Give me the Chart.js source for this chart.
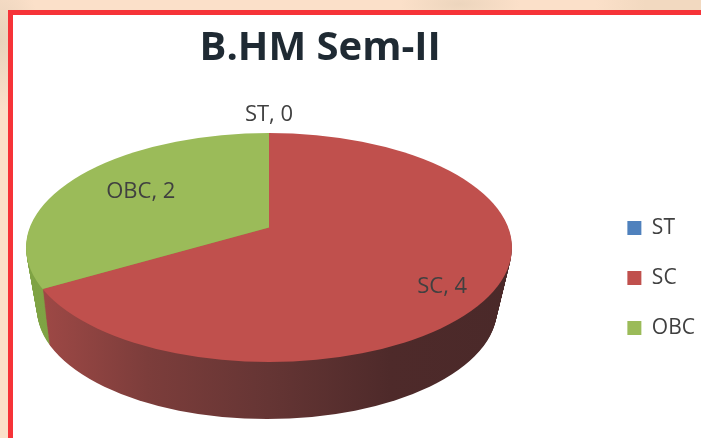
<!DOCTYPE html>
<html>
<head>
<meta charset="utf-8">
<script src="https://cdn.jsdelivr.net/npm/chart.js@4"></script>
<style>
    html, body { margin: 0; padding: 0; overflow: hidden; }
    body { width: 701px; height: 438px; background: radial-gradient(ellipse 60px 20px at 460px 4px, #ecd5bd, rgba(236,213,189,0)), radial-gradient(ellipse 40px 70px at 0px 40px, #e8d2bb, rgba(232,210,187,0)), linear-gradient(90deg, #fbe0c9 85%, #f2d9c0 92%); }
    #frame { position: absolute; left: 8px; top: 10px; width: 693px; height: 428px; background: #fff; border: 5px solid #f63338; border-right: 0; border-bottom: 0; box-sizing: border-box; }
    #chart { position: absolute; left: 0; top: 0; }
</style>
</head>
<body>
<div id="frame"></div>
<canvas id="chart" width="701" height="438"></canvas>
<script>
const categories = ["ST", "SC", "OBC"];
const values = [0, 4, 2];
const colors = ["#4f81bd", "#c0504d", "#9bbb59"];
// side wall colours, left to right across the pie
const sideColors = [
    ["#4f81bd", "#2c4a6e"],
    ["#a34a47", "#7c3d3b", "#653534", "#4e2a2a", "#4a2929"],
    ["#7fa344", "#76973f"],
];

// ellipse of the top face, the wedge tip sits above its centre
const pie = { cx: 269, cy: 247.5, rx: 243, ry: 114.5, tipY: 227.5, depth: 57 };
// bottom rim is a bit smaller and lower, perspective
const rim = { cx: 267, cy: 309, rx: 230, ry: 110 };
const labelRadius = [240, 200, 148];
const labelNudge = [0, 12, -1];

function ellipsePath(ctx, d) {
    var t = d / pie.depth;
    ctx.beginPath();
    ctx.ellipse(
        pie.cx + (rim.cx - pie.cx) * t,
        pie.cy + (rim.cy - pie.cy) * t,
        pie.rx + (rim.rx - pie.rx) * t,
        pie.ry + (rim.ry - pie.ry) * t,
        0, 0, Math.PI * 2
    );
}

function toFace(ctx, el, d) {
    var k = 2.2 * pie.rx / el.outerRadius;
    ctx.translate(pie.cx, pie.tipY + d);
    ctx.scale(k, k * pie.ry / pie.rx);
    ctx.translate(-el.x, -el.y);
}

const pie3d = {
    id: "pie3d",
    beforeDatasetsDraw: function (chart) {
        var ctx = chart.ctx;
        var arcs = chart.getDatasetMeta(0).data;
        // stack the slices from the bottom up to make the wall
        for (var d = pie.depth; d > 0; d--) {
            arcs.forEach(function (el, i) {
                ctx.save();
                ellipsePath(ctx, d);
                ctx.clip();
                toFace(ctx, el, d);
                var k = 2.2 * pie.rx / el.outerRadius;
                var g = ctx.createLinearGradient(el.x - pie.rx / k, 0, el.x + pie.rx / k, 0);
                sideColors[i].forEach(function (c, n, all) {
                    g.addColorStop(all.length > 1 ? n / (all.length - 1) : 0, c);
                });
                var keep = el.options.backgroundColor;
                el.options.backgroundColor = g;
                el.draw(ctx);
                el.options.backgroundColor = keep;
                ctx.restore();
            });
        }
        ctx.save();
        ellipsePath(ctx, 0);
        ctx.clip();
        toFace(ctx, arcs[1], 0);
    },
    afterDatasetsDraw: function (chart) {
        var ctx = chart.ctx;
        ctx.restore();
        var arcs = chart.getDatasetMeta(0).data;
        ctx.save();
        ctx.font = "22px 'Open Sans'";
        ctx.fillStyle = "#404040";
        ctx.textAlign = "center";
        ctx.textBaseline = "middle";
        arcs.forEach(function (el, i) {
            var mid = (el.startAngle + el.endAngle) / 2;
            var r = labelRadius[i];
            var x = pie.cx + Math.cos(mid) * r;
            var y = pie.tipY + Math.sin(mid) * r * pie.ry / pie.rx + labelNudge[i];
            ctx.fillText(categories[i] + ", " + values[i], x, y);
        });
        ctx.restore();
    },
};

new Chart(document.getElementById("chart").getContext("2d"), {
    type: "pie",
    data: {
        labels: categories,
        datasets: [{ data: values, backgroundColor: colors, borderWidth: 0 }],
    },
    options: {
        responsive: false,
        animation: false,
        layout: { padding: { left: 42, top: 25, right: -4, bottom: 0 } },
        plugins: {
            title: {
                display: true,
                text: "B.HM Sem-II",
                fullSize: false,
                color: "#1f2a33",
                font: { family: "'Open Sans'", size: 40, weight: "bold" },
                padding: { top: 0, bottom: 45 },
            },
            legend: {
                position: "right",
                fullSize: false,
                labels: {
                    boxWidth: 14,
                    boxHeight: 14,
                    padding: 29,
                    color: "#404040",
                    font: { family: "'Open Sans'", size: 21 },
                },
            },
            tooltip: { enabled: false },
        },
    },
    plugins: [pie3d],
});
</script>
</body>
</html>
